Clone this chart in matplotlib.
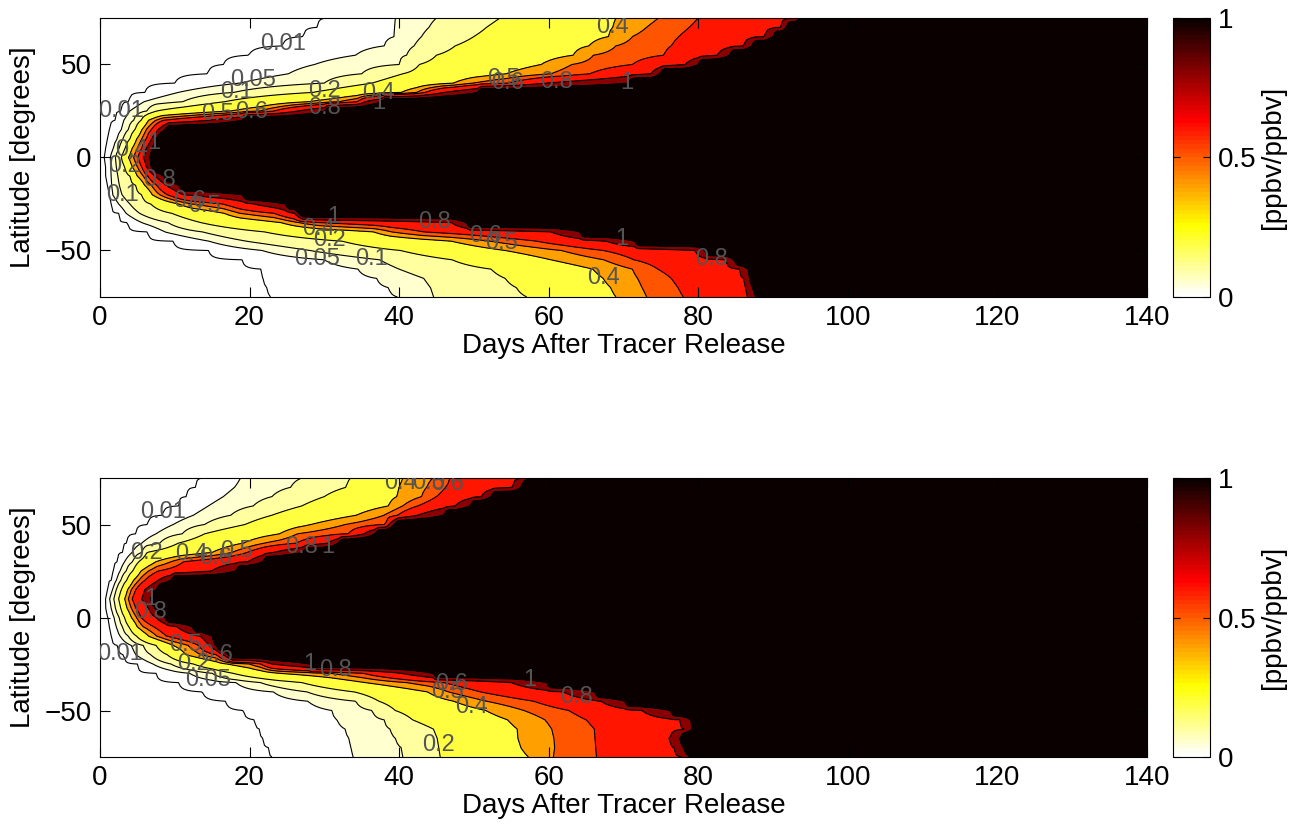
import numpy as np
import matplotlib
matplotlib.use('Agg')
import matplotlib.pyplot as plt
from matplotlib import colors, cm

plt.rcParams['font.family'] = ['Liberation Sans', 'DejaVu Sans']

# latitude rows (-75..75) and contour levels [ppbv/ppbv]
lat = np.arange(-75, 76, 5)
levels = [0.01, 0.05, 0.1, 0.2, 0.4, 0.5, 0.6, 0.8, 1.0]

# day at which each level is first reached, one value per latitude row
# ---- upper panel
top_001 = [22.9, 22.4, 21.9, 21.5, 19.0, 14.5, 9.8, 6.4, 3.7, 2.5, 1.5, 1.25, 1.0, 0.85, 0.75,
           0.7, 0.8, 1.0, 1.3, 2.0, 2.9, 3.9, 6.0, 10.0, 14.4, 16.5, 19.9, 24.4, 27.2, 29.1, 30.5]
top_005 = [39.8, 38.6, 37.0, 34.5, 30.0, 21.7, 14.6, 8.7, 5.6, 3.5, 2.5, 1.7, 1.55, 1.5, 1.45,
           1.4, 1.8, 2.3, 2.9, 3.2, 4.0, 5.9, 10.5, 18.7, 25.2, 28.7, 34.2, 38.0, 39.4, 39.45, 39.5]
top_01 = [44.6, 44.2, 43.3, 40.0, 37.4, 28.1, 19.6, 13.7, 9.1, 5.3, 4.0, 2.95, 2.6, 2.4, 2.2,
          2.1, 2.6, 3.1, 3.8, 4.5, 6.3, 11.1, 17.9, 30.0, 35.0, 40.0, 41.0, 42.0, 43.0, 44.0, 45.0]
top_02 = [57.1, 55.7, 54.2, 52.3, 47.1, 40.2, 32.4, 22.0, 13.5, 9.6, 6.8, 5.6, 4.8, 4.0, 3.3,
          2.9, 3.4, 4.0, 4.7, 5.5, 7.6, 16.7, 28.5, 36.4, 40.5, 42.7, 45.0, 47.5, 50.0, 51.7, 53.5]
top_04 = [69.0, 68.3, 67.3, 65.9, 60.3, 54.2, 47.0, 36.6, 24.2, 16.6, 10.5, 7.0, 6.0, 5.0, 4.3,
          3.8, 4.3, 4.9, 5.6, 6.5, 17.5, 28.0, 40.3, 47.3, 54.3, 59.0, 63.3, 65.4, 68.0, 68.6, 69.0]
top_05 = [73.1, 72.5, 71.9, 71.2, 67.4, 61.7, 52.2, 39.0, 26.6, 18.7, 12.3, 8.0, 6.9, 5.8, 5.0,
          4.5, 5.0, 5.6, 6.2, 7.5, 21.4, 32.0, 42.4, 49.9, 60.3, 63.1, 66.0, 69.0, 71.2, 73.1, 74.7]
top_06 = [78.0, 77.3, 76.4, 74.6, 71.4, 67.3, 58.4, 43.3, 29.4, 23.3, 16.4, 9.0, 7.6, 6.4, 5.6,
          5.1, 5.6, 6.2, 6.9, 8.5, 23.3, 34.4, 43.5, 54.5, 65.5, 71.2, 75.4, 76.4, 77.4, 78.8, 80.0]
top_08 = [86.7, 86.45, 86.2, 85.5, 83.7, 79.6, 67.7, 60.3, 47.0, 26.0, 20.6, 11.2, 8.9, 7.4, 6.2,
          5.8, 6.2, 6.9, 7.8, 14.5, 26.5, 35.5, 46.0, 59.7, 73.7, 78.3, 82.6, 86.1, 88.9, 91.1, 93.0]
top_1 = [87.8, 87.3, 86.9, 86.7, 84.8, 80.9, 71.5, 64.2, 49.0, 26.6, 24.8, 19.1, 10.6, 8.5, 6.9,
         6.7, 7.0, 7.6, 8.7, 19.0, 30.0, 37.6, 50.5, 70.7, 74.9, 80.0, 84.2, 87.2, 90.0, 91.8, 93.6]

# ---- lower panel
bot_001 = [23.0, 22.6, 21.8, 21.4, 20.7, 19.2, 16.8, 13.7, 10.5, 7.5, 5.0, 3.2, 2.4, 1.6, 1.3,
           1.2, 0.9, 0.8, 1.1, 1.5, 1.9, 2.4, 3.0, 3.6, 4.8, 6.4, 8.4, 10.5, 11.6, 12.8, 13.8]
bot_005 = [33.9, 33.6, 33.3, 32.8, 31.7, 31.0, 27.8, 23.2, 18.2, 12.0, 7.1, 4.8, 4.2, 2.7, 2.2,
           1.9, 1.5, 1.3, 1.7, 2.2, 2.7, 3.3, 4.3, 5.6, 7.5, 9.8, 12.5, 14.5, 16.5, 18.0, 18.8]
bot_01 = [40.5, 40.3, 39.5, 38.8, 38.0, 36.4, 34.2, 27.7, 21.5, 15.0, 9.5, 6.8, 5.8, 3.8, 3.0,
          2.6, 2.1, 1.9, 2.2, 2.8, 3.5, 4.4, 5.6, 8.0, 11.0, 14.0, 17.5, 20.5, 23.0, 25.5, 27.0]
bot_02 = [45.5, 45.3, 45.1, 44.6, 41.8, 39.5, 37.3, 34.0, 27.0, 17.8, 12.5, 9.0, 7.5, 4.9, 3.9,
          3.3, 2.8, 2.5, 2.9, 3.6, 4.4, 5.2, 6.3, 10.5, 14.0, 19.4, 23.0, 27.0, 30.0, 32.9, 33.5]
bot_04 = [57.3, 56.3, 55.9, 55.8, 54.5, 51.6, 47.3, 43.8, 35.5, 24.0, 17.0, 11.5, 9.8, 6.5, 5.0,
          4.2, 3.6, 3.3, 3.7, 4.5, 5.5, 7.5, 15.0, 19.2, 24.0, 28.2, 34.3, 38.6, 39.7, 40.0, 40.5]
bot_05 = [60.6, 60.8, 60.7, 60.4, 59.5, 56.7, 51.7, 46.6, 41.0, 30.8, 20.0, 13.5, 11.8, 7.6, 5.8,
          4.9, 4.2, 3.8, 4.2, 5.2, 6.5, 9.5, 17.7, 22.0, 26.4, 32.8, 38.0, 40.5, 43.0, 43.7, 44.5]
bot_06 = [66.4, 66.3, 66.2, 66.1, 65.0, 62.7, 58.0, 50.9, 46.0, 35.2, 21.5, 15.6, 13.2, 8.9, 7.2,
          5.5, 4.8, 4.3, 4.8, 6.0, 7.8, 11.2, 19.7, 26.3, 33.2, 38.2, 39.8, 42.5, 45.0, 46.2, 46.8]
bot_08 = [77.8, 76.8, 76.2, 78.2, 77.5, 72.5, 67.0, 62.0, 55.0, 40.3, 23.0, 16.5, 14.6, 13.4, 10.3,
          7.5, 6.5, 5.6, 6.0, 7.8, 14.9, 19.8, 23.2, 30.5, 35.3, 38.6, 42.5, 47.5, 51.0, 55.2, 56.5]
bot_1 = [78.9, 78.1, 77.6, 79.2, 79.1, 76.3, 70.2, 66.2, 59.8, 44.5, 28.0, 17.2, 15.5, 15.0, 12.4,
         8.7, 7.4, 6.8, 7.6, 9.5, 18.2, 21.8, 27.1, 31.9, 36.8, 39.4, 46.0, 49.5, 52.3, 56.3, 57.3]

top_arrivals = [top_001, top_005, top_01, top_02, top_04, top_05, top_06, top_08, top_1]
bot_arrivals = [bot_001, bot_005, bot_01, bot_02, bot_04, bot_05, bot_06, bot_08, bot_1]

# roughly where each contour carries a label (day, latitude), per level
top_label_spots = {
    0.01: [(25.1, 60.8), (2.9, 25.8)],
    0.05: [(20.4, 41.5), (29.2, -53.8)],
    0.1: [(19.1, 34.0), (2.3, -18.8), (36.5, -53.8)],
    0.2: [(29.6, 36.6), (2.0, -3.8), (31.0, -44.0)],
    0.4: [(36.8, 36.6), (68.0, 70.0), (3.2, 4.3), (29.0, -38.7), (66.8, -65.6)],
    0.5: [(16.0, 23.0), (54.0, 42.0), (14.0, -26.0), (54.0, -45.7)],
    0.6: [(20.4, 24.0), (55.5, 39.0), (12.4, -22.6), (51.5, -42.5)],
    0.8: [(30.5, 25.8), (61.0, 40.0), (9.0, -12.0), (45.0, -33.3), (81.8, -54.8)],
    1.0: [(40.1, 27.4), (72.0, 38.0), (6.7, 8.0), (31.2, -30.6), (70.2, -43.0)],
}
bot_label_spots = {
    0.01: [(8.7, 57.0), (2.9, -19.0)],
    0.05: [(14.6, -33.3)],
    0.2: [(5.9, 34.0), (14.2, -22.6), (44.8, -67.4)],
    0.4: [(12.2, 34.0), (41.0, 72.0), (49.5, -48.5)],
    0.5: [(17.2, 36.5), (44.5, 72.0), (12.3, -14.0), (46.6, -39.6)],
    0.6: [(15.8, 31.2), (48.0, 72.0), (17.5, -19.0), (47.0, -36.0)],
    0.8: [(29.6, 35.6), (8.0, 3.4), (31.4, -30.6), (64.8, -41.4)],
    1.0: [(32.3, 35.6), (7.1, 9.7), (28.3, -24.4), (57.7, -33.3)],
}

days = np.arange(0, 140.01, 0.25)


def make_field(arrivals):
    arr = np.array(arrivals).T
    z = np.zeros((len(lat), len(days)))
    for i in range(len(lat)):
        xp = np.concatenate([[-1.0], arr[i], [arr[i][-1] + 0.5]])
        fp = [0.0] + levels + [1.3]
        z[i] = np.interp(days, xp, fp)
    return z


def label_contours(ax, cs, spots):
    # MATLAB-style labels: upright, grey, sitting on the line (no gap)
    for k, lev in enumerate(levels):
        segs = [s for s in cs.allsegs[k] if len(s)]
        if not segs or lev not in spots:
            continue
        pts = np.vstack(segs)
        for d0, l0 in spots[lev]:
            dist = ((pts[:, 0] - d0) / 7.0) ** 2 + ((pts[:, 1] - l0) / 7.5) ** 2
            x, y = pts[np.argmin(dist)]
            ax.text(x, y, '%g' % lev, ha='center', va='center', fontsize=17,
                    color='0.33', clip_on=True, zorder=5)


cmap = plt.get_cmap('hot_r', 64)
fill_levels = [-0.1] + levels + [2.0]
fill_colors = [cmap(v) for v in [0.0] + levels]

fig = plt.figure(figsize=(13.03, 8.25), dpi=100)
font = {'size': 20}

panels = [(0.640, top_arrivals, top_label_spots), (0.0824, bot_arrivals, bot_label_spots)]
for bottom, arrivals, spots in panels:
    ax = fig.add_axes([0.0767, bottom, 0.8035, 0.3382])
    z = make_field(arrivals)
    ax.contourf(days, lat, z, levels=fill_levels, colors=fill_colors)
    cs = ax.contour(days, lat, z, levels=levels, colors='k', linewidths=0.8)
    label_contours(ax, cs, spots)
    ax.set_xlim(0, 140)
    ax.set_ylim(-75, 75)
    ax.set_xticks(np.arange(0, 141, 20))
    ax.set_yticks([-50, 0, 50])
    ax.set_yticklabels(['\u221250', '0', '50'])
    ax.tick_params(direction='in', length=7, top=True, right=True, labelsize=20, pad=6)
    ax.set_xlabel('Days After Tracer Release', fontdict=font, labelpad=1)
    ax.set_ylabel('Latitude [degrees]', fontdict=font, labelpad=6)

    cax = fig.add_axes([0.9002, bottom, 0.0284, 0.3382])
    sm = cm.ScalarMappable(norm=colors.Normalize(0, 1), cmap=cmap)
    cb = fig.colorbar(sm, cax=cax, ticks=[0, 0.5, 1])
    cb.ax.set_yticklabels(['0', '0.5', '1'])
    cb.ax.tick_params(direction='in', length=5, left=True, right=True, labelsize=20, pad=6)
    cb.outline.set_linewidth(0.8)
    cb.set_label('[ppbv/ppbv]', fontsize=20, labelpad=2)

plt.savefig('out.png', dpi=100)
